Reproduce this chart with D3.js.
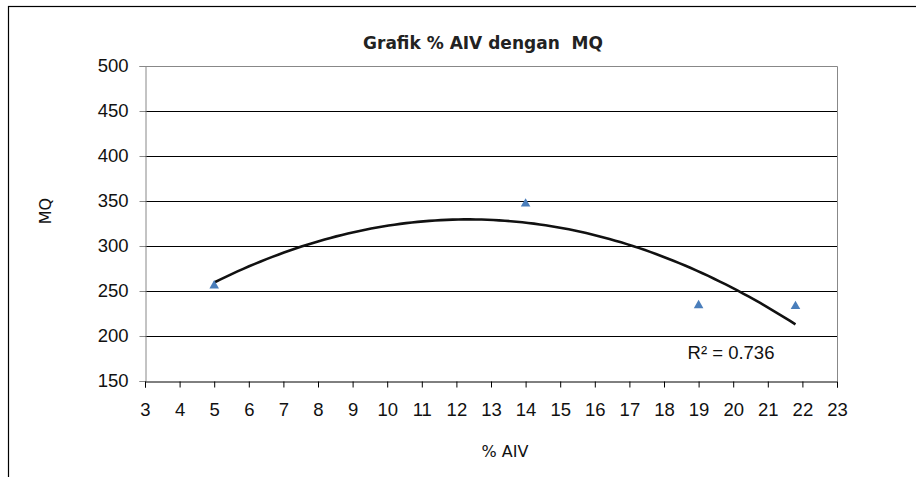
<!DOCTYPE html>
<html>
<head>
<meta charset="utf-8">
<script src="https://cdn.jsdelivr.net/npm/d3@7"></script>
<style>
  body { margin: 0; background: #fff; }
  svg { display: block; }
</style>
</head>
<body>
<div id="chart"></div>
<script>
// data
const aiv = [5, 14, 19, 21.8];
const mq = [256, 347, 234, 233];
const xTicks = d3.range(3, 24);
const yTicks = [150, 200, 250, 300, 350, 400, 450, 500];
const r2Label = "R\u00b2 = 0.736";

const width = 916, height = 477;
const margin = { left: 145, top: 66, right: 79, bottom: 96 };
const tickFont = "Liberation Sans, Arial, sans-serif";

const svg = d3.select("#chart").append("svg")
    .attr("width", width)
    .attr("height", height);

// outer chart frame (runs off the right and bottom of the picture)
svg.append("rect")
    .attr("x", 8.5).attr("y", 6.5)
    .attr("width", 1000).attr("height", 600)
    .attr("fill", "none")
    .attr("stroke", "#000")
    .attr("stroke-width", 1.2);

const x = d3.scaleLinear().domain([3, 23]).range([margin.left, width - margin.right]);
const y = d3.scaleLinear().domain([150, 500]).range([height - margin.bottom, margin.top]);

// gridlines
svg.append("g")
    .selectAll("line")
    .data(yTicks.filter(d => d > 150 && d < 500))
    .join("line")
    .attr("x1", x(3)).attr("x2", x(23))
    .attr("y1", d => Math.round(y(d)) + 0.5)
    .attr("y2", d => Math.round(y(d)) + 0.5)
    .attr("stroke", "#000");

// plot area border (top + right)
svg.append("path")
    .attr("d", `M${x(3)},${Math.round(y(500)) + 0.5}H${Math.round(x(23)) + 0.5}V${y(150)}`)
    .attr("fill", "none")
    .attr("stroke", "#888");

// y axis
const yAxis = svg.append("g")
    .attr("transform", `translate(${Math.round(x(3)) + 0.5},0)`)
    .call(d3.axisLeft(y).tickValues(yTicks).tickSize(6).tickPadding(11));
yAxis.select(".domain").attr("stroke", "#888");
yAxis.selectAll(".tick line").attr("stroke", "#888");
yAxis.selectAll("text")
    .attr("font-family", tickFont)
    .attr("font-size", 18.5)
    .attr("fill", "#111");

// x axis
const xAxis = svg.append("g")
    .attr("transform", `translate(0,${Math.round(y(150)) + 0.5})`)
    .call(d3.axisBottom(x).tickValues(xTicks).tickSize(6).tickPadding(15));
xAxis.select(".domain").attr("stroke", "#000");
xAxis.selectAll(".tick line").attr("stroke", "#000");
xAxis.selectAll("text")
    .attr("font-family", tickFont)
    .attr("font-size", 18.5)
    .attr("fill", "#111");

// polynomial (order 2) trendline by least squares
function quadFit(xs, ys) {
    const n = xs.length;
    let s = [0, 0, 0, 0, 0], t = [0, 0, 0];
    for (let i = 0; i < n; i++) {
        for (let k = 0; k < 5; k++) s[k] += Math.pow(xs[i], k);
        for (let k = 0; k < 3; k++) t[k] += ys[i] * Math.pow(xs[i], k);
    }
    const A = [[s[0], s[1], s[2], t[0]], [s[1], s[2], s[3], t[1]], [s[2], s[3], s[4], t[2]]];
    for (let c = 0; c < 3; c++) {
        for (let r = c + 1; r < 3; r++) {
            const f = A[r][c] / A[c][c];
            for (let k = c; k < 4; k++) A[r][k] -= f * A[c][k];
        }
    }
    const b = [0, 0, 0];
    for (let r = 2; r >= 0; r--) {
        let v = A[r][3];
        for (let k = r + 1; k < 3; k++) v -= A[r][k] * b[k];
        b[r] = v / A[r][r];
    }
    return xv => b[0] + b[1] * xv + b[2] * xv * xv;
}
const fit = quadFit(aiv, mq);
const xs = d3.range(0, 101).map(i => aiv[0] + (aiv[aiv.length - 1] - aiv[0]) * i / 100);
svg.append("path")
    .datum(xs)
    .attr("d", d3.line().x(d => x(d)).y(d => y(fit(d))))
    .attr("fill", "none")
    .attr("stroke", "#111")
    .attr("stroke-width", 2.6);

// points
svg.append("g")
    .selectAll("path")
    .data(aiv.map((d, i) => [d, mq[i]]))
    .join("path")
    .attr("d", d3.symbol(d3.symbolTriangle, 40))
    .attr("transform", d => `translate(${x(d[0])},${y(d[1])})`)
    .attr("fill", "#4a7ebb");

// R² label
svg.append("text")
    .attr("x", 731).attr("y", 359)
    .attr("text-anchor", "middle")
    .attr("font-family", tickFont)
    .attr("font-size", 18.5)
    .attr("fill", "#111")
    .text(r2Label);

// title and axis titles
svg.append("text")
    .attr("x", 483).attr("y", 49)
    .attr("text-anchor", "middle")
    .attr("font-family", "DejaVu Sans, sans-serif")
    .attr("font-weight", "bold")
    .attr("font-size", 17)
    .attr("fill", "#222")
    .style("white-space", "pre")
    .text("Grafik % AIV dengan  MQ");

svg.append("text")
    .attr("transform", "translate(51,211) rotate(-90)")
    .attr("text-anchor", "middle")
    .attr("font-family", "DejaVu Sans, sans-serif")
    .attr("font-size", 16)
    .attr("fill", "#111")
    .text("MQ");

svg.append("text")
    .attr("x", 505).attr("y", 457)
    .attr("text-anchor", "middle")
    .attr("font-family", "DejaVu Sans, sans-serif")
    .attr("font-size", 16)
    .attr("fill", "#111")
    .text("% AIV");
</script>
</body>
</html>
